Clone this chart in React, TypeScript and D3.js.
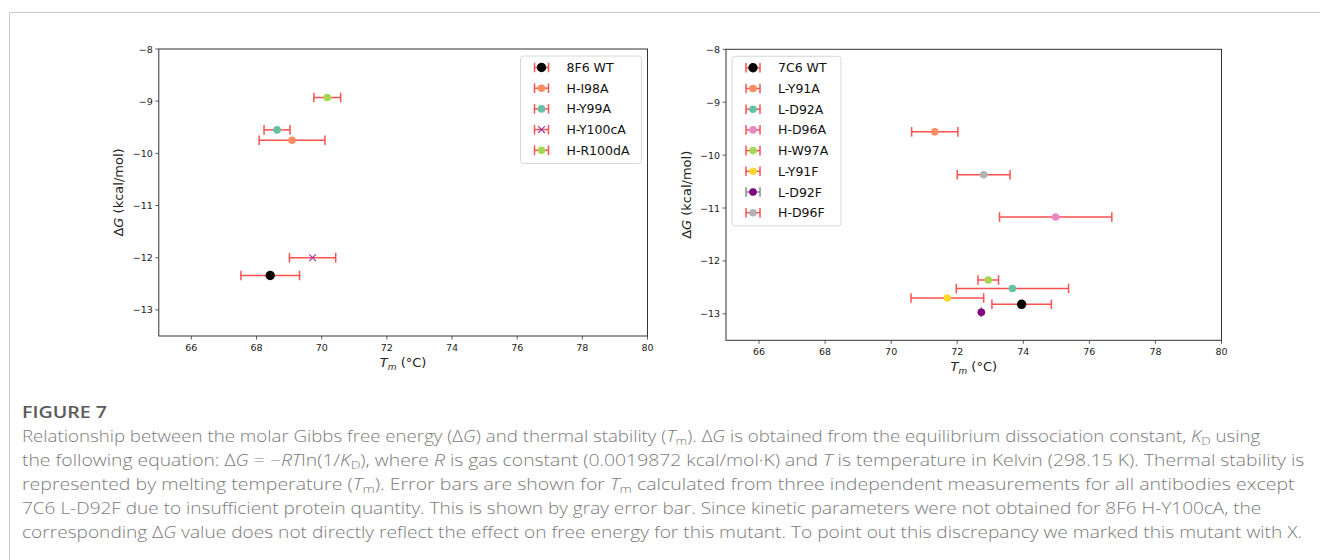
import React, { useLayoutEffect, useRef } from "react";
import * as d3 from "d3";

// ---------- data ----------
const leftLabels = ["8F6 WT", "H-I98A", "H-Y99A", "H-Y100cA", "H-R100dA"];
const leftTm = [68.42, 69.09, 68.63, 69.72, 70.17];
const leftTmErr = [0.9, 1.01, 0.4, 0.71, 0.41];
const leftDG = [-12.34, -9.75, -9.55, -12.0, -8.93];
const leftColors = ["#000000", "#fc8d62", "#66c2a5", "#9b3fa3", "#a6d854"];
const leftMarkers = ["big", "dot", "dot", "x", "dot"];
const leftErrColors = ["#ff5050", "#ff5050", "#ff5050", "#ff5050", "#ff5050"];

const rightLabels = ["7C6 WT", "L-Y91A", "L-D92A", "H-D96A", "H-W97A", "L-Y91F", "L-D92F", "H-D96F"];
const rightTm = [73.95, 71.32, 73.67, 74.98, 72.94, 71.7, 72.73, 72.8];
const rightTmErr = [0.9, 0.7, 1.7, 1.7, 0.31, 1.1, 0, 0.8];
const rightDG = [-12.82, -9.56, -12.52, -11.17, -12.36, -12.7, -12.97, -10.37];
const rightColors = ["#000000", "#fc8d62", "#66c2a5", "#e78ac3", "#a6d854", "#ffd92f", "#800080", "#b3b3b3"];
const rightMarkers = ["big", "dot", "dot", "dot", "dot", "dot", "dot", "dot"];
const rightErrColors = ["#ff5050", "#ff5050", "#ff5050", "#ff5050", "#ff5050", "#ff5050", "#888888", "#ff5050"];

const xDomain = [65, 80];
const yDomain = [-13.5, -8];
const xTicks = [66, 68, 70, 72, 74, 76, 78, 80];
const yTicks = [-8, -9, -10, -11, -12, -13];

const figureTitle = "FIGURE 7";
type Seg = [string, string?];
const captionLines: Seg[][] = [
  [["Relationship between the molar Gibbs free energy (Δ"], ["G", "i"], [") and thermal stability ("], ["T", "i"], ["m", "s"], ["). Δ"], ["G", "i"], [" is obtained from the equilibrium dissociation constant, "], ["K", "i"], ["D", "s"], [" using"]],
  [["the following equation: Δ"], ["G", "i"], [" = −"], ["RT", "i"], ["ln(1/"], ["K", "i"], ["D", "s"], ["), where "], ["R", "i"], [" is gas constant (0.0019872 kcal/mol·K) and "], ["T", "i"], [" is temperature in Kelvin (298.15 K). Thermal stability is"]],
  [["represented by melting temperature ("], ["T", "i"], ["m", "s"], ["). Error bars are shown for "], ["T", "i"], ["m", "s"], [" calculated from three independent measurements for all antibodies except"]],
  [["7C6 L-D92F due to insufficient protein quantity. This is shown by gray error bar. Since kinetic parameters were not obtained for 8F6 H-Y100cA, the"]],
  [["corresponding Δ"], ["G", "i"], [" value does not directly reflect the effect on free energy for this mutant. To point out this discrepancy we marked this mutant with X."]],
];
const captionEnds = [1262, 1305, 1295, 1262, 1303];

const W = 1320;
const H = 560;
const FONT = "'DejaVu Sans', sans-serif";
const CAP_X = 22;

type Frame = { left: number; right: number; top: number; bottom: number };

function Marker({ kind, cx, cy, color }: { kind: string; cx: number; cy: number; color: string }) {
  if (kind === "x") {
    const s = 3.4;
    return (
      <path
        d={`M${cx - s},${cy - s}L${cx + s},${cy + s}M${cx - s},${cy + s}L${cx + s},${cy - s}`}
        stroke={color}
        strokeWidth={1.2}
        fill="none"
      />
    );
  }
  return <circle cx={cx} cy={cy} r={kind === "big" ? 4.7 : 3.8} fill={color} />;
}

function ErrBar({ x1, x2, y, color }: { x1: number; x2: number; y: number; color: string }) {
  const c = 4.8;
  return (
    <g stroke={color} strokeWidth={1.5} fill="none">
      <line x1={x1} x2={x2} y1={y} y2={y} />
      <line x1={x1} x2={x1} y1={y - c} y2={y + c} />
      <line x1={x2} x2={x2} y1={y - c} y2={y + c} />
    </g>
  );
}

function Panel(props: {
  frame: Frame;
  labels: string[];
  tm: number[];
  err: number[];
  dg: number[];
  colors: string[];
  markers: string[];
  errColors: string[];
  legendRight: boolean;
  ylabelX: number;
}) {
  const { frame, labels, tm, err, dg, colors, markers, errColors, legendRight, ylabelX } = props;
  const x = d3.scaleLinear().domain(xDomain).range([frame.left, frame.right]);
  const y = d3.scaleLinear().domain(yDomain).range([frame.bottom, frame.top]);
  const fmt = (v: number) => String(v).replace("-", "\u2212");

  const rowH = 20.7;
  const legW = legendRight ? 121 : 109;
  const legH = labels.length * rowH + 4;
  const legX = legendRight ? frame.right - 6 - legW : frame.left + 6;
  const legY = frame.top + 7;
  const midY = (frame.top + frame.bottom) / 2;
  const midX = (frame.left + frame.right) / 2;

  return (
    <g>
      {xTicks.map((t) => (
        <g key={"x" + t}>
          <line x1={x(t)} x2={x(t)} y1={frame.bottom} y2={frame.bottom + 3.5} stroke="#333" strokeWidth={0.8} />
          <text x={x(t)} y={frame.bottom + 11} textAnchor="middle" dominantBaseline="central" fontFamily={FONT} fontSize={9.5} fill="#222">
            {fmt(t)}
          </text>
        </g>
      ))}
      {yTicks.map((t) => (
        <g key={"y" + t}>
          <line x1={frame.left - 3.5} x2={frame.left} y1={y(t)} y2={y(t)} stroke="#333" strokeWidth={0.8} />
          <text x={frame.left - 6} y={y(t)} textAnchor="end" dominantBaseline="central" fontFamily={FONT} fontSize={9.5} fill="#222">
            {fmt(t)}
          </text>
        </g>
      ))}
      <text x={midX} y={frame.bottom + 31} textAnchor="middle" fontFamily={FONT} fontSize={13} fill="#222">
        <tspan fontStyle="italic">T</tspan>
        <tspan fontStyle="italic" fontSize={9} dy={2.5}>m</tspan>
        <tspan dy={-2.5}> (°C)</tspan>
      </text>
      <text
        transform={`translate(${ylabelX},${midY}) rotate(-90)`}
        textAnchor="middle"
        dominantBaseline="central"
        fontFamily={FONT}
        fontSize={13}
        fill="#222"
      >
        Δ<tspan fontStyle="italic">G</tspan> (kcal/mol)
      </text>
      {labels.map((l, i) => (
        <g key={l}>
          <ErrBar x1={x(tm[i] - err[i])} x2={x(tm[i] + err[i])} y={y(dg[i])} color={errColors[i]} />
          <Marker kind={markers[i]} cx={x(tm[i])} cy={y(dg[i])} color={colors[i]} />
        </g>
      ))}
      <rect
        x={frame.left}
        y={frame.top}
        width={frame.right - frame.left}
        height={frame.bottom - frame.top}
        fill="none"
        stroke="#333"
        strokeWidth={1}
      />
      <g>
        <rect x={legX} y={legY} width={legW} height={legH} rx={3} fill="#fff" fillOpacity={0.85} stroke="#d4d4d4" strokeWidth={0.9} />
        {labels.map((l, i) => {
          const cy = legY + 11.5 + i * rowH;
          const hx = legX + 21;
          return (
            <g key={"lg" + l}>
              <ErrBar x1={hx - 7} x2={hx + 7} y={cy} color={errColors[i]} />
              <Marker kind={markers[i]} cx={hx} cy={cy} color={colors[i]} />
              <text x={legX + 46} y={cy} dominantBaseline="central" fontFamily={FONT} fontSize={12.5} fill="#111">
                {l}
              </text>
            </g>
          );
        })}
      </g>
    </g>
  );
}

function renderSegs(segs: Seg[]) {
  let shifted = false;
  return segs.map((s, i) => {
    const [t, st] = s;
    if (st === "s") {
      shifted = true;
      return (
        <tspan key={i} dy={3.5} fontSize={11}>
          {t}
        </tspan>
      );
    }
    const dy = shifted ? -3.5 : 0;
    shifted = false;
    return (
      <tspan key={i} dy={dy || undefined} fontStyle={st === "i" ? "italic" : undefined}>
        {t}
      </tspan>
    );
  });
}

function Caption() {
  const refs = useRef<(SVGTextElement | null)[]>([]);
  useLayoutEffect(() => {
    refs.current.forEach((el, i) => {
      if (!el) return;
      el.removeAttribute("transform");
      const w = el.getBBox().width;
      const target = captionEnds[i] - CAP_X;
      if (w > 0) {
        const k = target / w;
        el.setAttribute("transform", `translate(${CAP_X},0) scale(${k},1) translate(${-CAP_X},0)`);
      }
    });
  }, []);
  return (
    <g>
      <text x={CAP_X} y={418} fontFamily="'Open Sans', sans-serif" fontWeight={600} fontSize={16.5} fill="#5a5a5a" textLength={85} lengthAdjust="spacingAndGlyphs">
        {figureTitle}
      </text>
      {captionLines.map((segs, i) => (
        <text
          key={i}
          ref={(el) => {
            refs.current[i] = el;
          }}
          x={CAP_X}
          y={442 + i * 24}
          fontFamily="'Open Sans', sans-serif"
          fontWeight={300}
          fontSize={15.5}
          fill="#7a7a7a"
        >
          {renderSegs(segs)}
        </text>
      ))}
    </g>
  );
}

export default function App() {
  const leftFrame: Frame = { left: 158.8, right: 647.5, top: 49, bottom: 336 };
  const rightFrame: Frame = { left: 726, right: 1221.5, top: 49.3, bottom: 340.3 };
  return (
    <svg width={W} height={H} style={{ position: "fixed", left: 0, top: 0, background: "#fff" }}>
      <rect x={0} y={0} width={W} height={H} fill="#fff" />
      <path d={`M9.5,${H}L9.5,12.5L${W},12.5`} stroke="#c8c8c8" strokeWidth={1} fill="none" />
      <Panel
        frame={leftFrame}
        labels={leftLabels}
        tm={leftTm}
        err={leftTmErr}
        dg={leftDG}
        colors={leftColors}
        markers={leftMarkers}
        errColors={leftErrColors}
        legendRight={true}
        ylabelX={118}
      />
      <Panel
        frame={rightFrame}
        labels={rightLabels}
        tm={rightTm}
        err={rightTmErr}
        dg={rightDG}
        colors={rightColors}
        markers={rightMarkers}
        errColors={rightErrColors}
        legendRight={false}
        ylabelX={686}
      />
      <Caption />
    </svg>
  );
}
